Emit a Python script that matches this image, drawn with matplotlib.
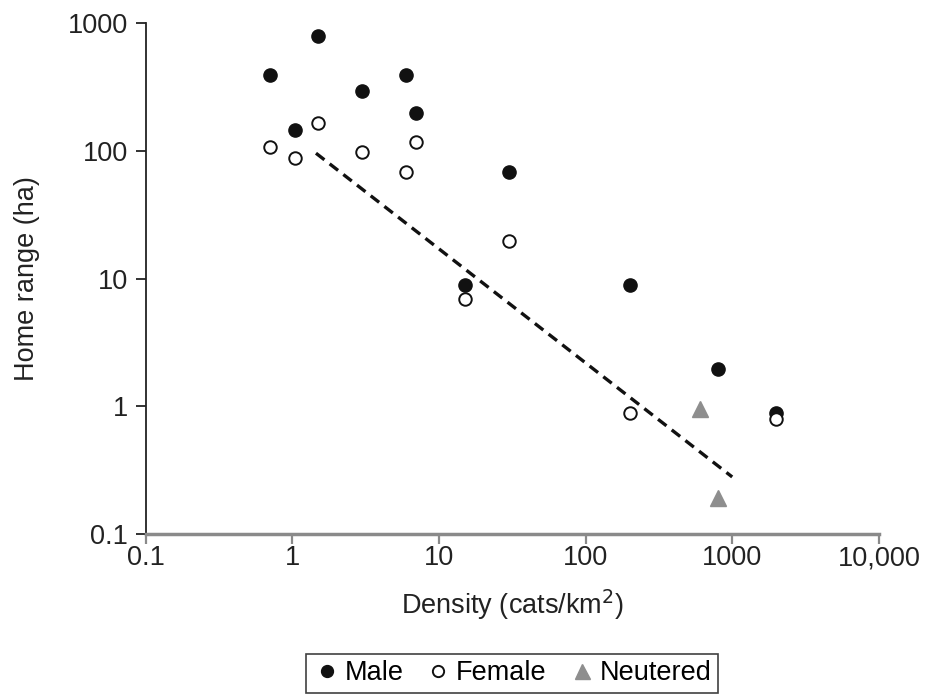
import matplotlib
matplotlib.use("Agg")
import matplotlib.pyplot as plt
from matplotlib.ticker import FixedLocator, NullLocator

plt.rcParams['font.family'] = ['Liberation Sans', 'DejaVu Sans']

# Data
male_x = [0.7, 1.5, 1.05, 3.0, 6.0, 7.0, 30, 15, 200, 800, 2000]
male_y = [390, 800, 147, 296, 390, 197, 69, 8.9, 8.9, 1.95, 0.88]
female_x = [0.7, 1.05, 1.5, 3.0, 6.0, 7.0, 30, 15, 200, 2000]
female_y = [108, 88, 166, 99, 69, 118, 19.8, 6.9, 0.88, 0.79]
neut_x = [600, 800]
neut_y = [0.96, 0.19]
fit_x = [1.45, 1000]
fit_y = [96, 0.28]

xticks = [0.1, 1, 10, 100, 1000, 10000]
xticklabels = ['0.1', '1', '10', '100', '1000', '10,000']
yticks = [0.1, 1, 10, 100, 1000]
yticklabels = ['0.1', '1', '10', '100', '1000']

FS = 19.5

fig = plt.figure(figsize=(9.28, 6.94), dpi=100)
ax = fig.add_axes([0.157, 0.2305, 0.79, 0.736])

ax.plot(fit_x, fit_y, color='#111111', lw=2.4, ls=(0, (3.2, 2.0)), zorder=2)
ax.plot(male_x, male_y, 'o', color='#111111', ms=9.5, ls='none', label='Male', zorder=3)
ax.plot(female_x, female_y, 'o', mfc='white', mec='#111111', mew=1.4, ms=9, ls='none',
        label='Female', zorder=4)
ax.plot(neut_x, neut_y, '^', color='#8e8e8e', ms=12, ls='none', label='Neutered', zorder=3)

ax.set_xscale('log')
ax.set_yscale('log')
ax.set_xlim(0.1, 10000)
ax.set_ylim(0.1, 1000)
ax.xaxis.set_major_locator(FixedLocator(xticks))
ax.xaxis.set_minor_locator(NullLocator())
ax.yaxis.set_major_locator(FixedLocator(yticks))
ax.yaxis.set_minor_locator(NullLocator())
ax.set_xticklabels(xticklabels)
ax.set_yticklabels(yticklabels)

for s in ['top', 'right']:
    ax.spines[s].set_visible(False)
ax.spines['left'].set_color('#222222')
ax.spines['left'].set_linewidth(1.3)
ax.spines['bottom'].set_color('#8a8a8a')
ax.spines['bottom'].set_linewidth(2.5)

ax.tick_params(axis='y', direction='out', length=7, width=1.3, color='#222222',
               labelsize=FS, labelcolor='#222222', pad=6)
ax.tick_params(axis='x', direction='out', length=7, width=1.6, color='#8a8a8a',
               labelsize=FS, labelcolor='#222222', pad=1)

ax.set_xlabel('Density (cats/km$^2$)', fontsize=FS, color='#222222', labelpad=12)
ax.set_ylabel('Home range (ha)', fontsize=FS, color='#222222', labelpad=20)

leg = ax.legend(loc='lower center', bbox_to_anchor=(0.5, -0.3115), ncol=3, frameon=True,
                fancybox=False, edgecolor='#111111', fontsize=FS, handletextpad=0.15,
                columnspacing=0.8, borderpad=0.25, handlelength=1.0, markerscale=0.9,
                borderaxespad=0)
leg.get_frame().set_linewidth(1.2)

fig.savefig('out.png', dpi=100, facecolor='white')
